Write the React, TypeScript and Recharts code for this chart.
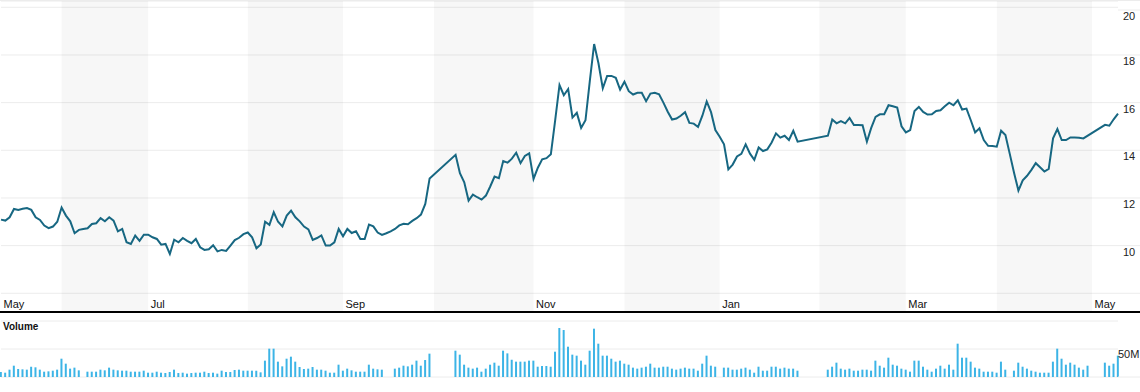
import React from "react";
import {
  ComposedChart,
  Line,
  Bar,
  XAxis,
  YAxis,
  CartesianGrid,
  ReferenceArea,
} from "recharts";

// x = weekday index since 2013-05-14 (holidays / missing days are null)
const PRICE: (number | null)[] = [
  11.09, 11.05, 11.19, 11.54, 11.5, 11.55, 11.58, 11.5, 11.19, 11.08,
  10.84, 10.73, 10.8, 11.0, 11.6, 11.26, 11.02, 10.52, 10.66, 10.7,
  10.73, 10.91, 10.94, 11.15, 11.02, 11.19, 11.05, 10.6, 10.7, 10.14,
  10.07, 10.42, 10.2, 10.46, 10.46, 10.35, 10.28, 10.04, 10.07, 9.65,
  10.25, 10.14, 10.32, 10.2, 10.1, 10.28, 9.93, 9.82, 9.85, 10.02,
  9.76, 9.82, 9.78, 10.0, 10.23, 10.33, 10.48, 10.55, 10.35, 9.89,
  10.05, 11.0, 10.87, 11.4, 11.0, 10.81, 11.26, 11.47, 11.19, 11.02,
  10.8, 10.68, 10.24, 10.32, 10.43, 10.0, 10.0, 10.14, 10.7, 10.39,
  10.7, 10.53, 10.6, 10.28, 10.28, 10.88, 10.81, 10.55, 10.45, 10.52,
  10.6, 10.7, 10.85, 10.92, 10.9, 11.04, 11.15, 11.3, 11.75, 12.82,
  null, null, null, null, null, 13.81, 13.04, 12.66, 11.89, 12.14,
  12.03, 11.93, 12.1, 12.48, 12.9, 12.83, 13.55, 13.48, 13.65, 13.9,
  13.46, 13.76, 13.87, 12.8, 13.27, 13.62, 13.67, 13.83, 15.26, 16.74,
  16.31, 16.57, 15.37, 15.57, 14.94, 15.26, 16.9, 18.46, 17.65, 16.6,
  17.12, 17.12, 17.04, 16.55, 16.88, 16.48, 16.34, 16.41, 16.41, 16.06,
  16.38, 16.41, 16.35, 16.0, 15.62, 15.29, 15.33, 15.45, 15.6, 15.15,
  15.12, 14.98, 15.45, 16.05, 15.6, 14.85, 14.57, 14.25, 13.2, 13.4,
  13.74, 13.85, 14.25, 13.86, 13.6, 14.12, 13.97, 14.04, 14.33, 14.71,
  14.53, 14.61, 14.43, 14.82, 14.36, null, null, null, null, null,
  null, 14.61, 15.29, 15.13, 15.22, 15.13, 15.36, 15.06, 15.06, 15.05,
  14.36, 14.94, 15.4, 15.51, 15.51, 15.89, 15.85, 15.79, 15.01, 14.75,
  14.85, 15.65, 15.82, 15.61, 15.5, 15.51, 15.65, 15.68, 15.85, 16.0,
  15.89, 16.1, 15.71, 15.75, 15.26, 14.75, 14.92, 14.43, 14.19, 14.18,
  14.15, 14.82, 14.64, 13.85, 13.05, 12.31, 12.74, 12.93, 13.18, 13.46,
  13.29, 13.11, 13.22, 14.5, 14.89, 14.43, 14.43, 14.54, 14.54, 14.53,
  14.5, null, null, null, null, 15.07, 15.03, 15.3, 15.54,
];

// millions of shares
const VOLUME: (number | null)[] = [
  8.9, 7.7, 13.1, 20.2, 14.3, 13.7, 13.1, 18.4, 17.3, 13.1,
  9.5, 10.1, 11.3, 13.1, 32.7, 23.8, 14.9, 16.7, 11.9, null,
  9.5, 9.5, 9.5, 13.1, 11.9, 16.7, 13.1, 11.9, 11.3, 11.3,
  9.5, 9.5, 9.5, 11.3, 7.7, 7.7, 9.5, 7.7, 7.1, 8.9,
  13.1, 7.1, 7.7, 6.0, 7.1, 7.7, 7.7, 9.5, 7.1, 7.7,
  6.0, 11.3, 8.9, 8.9, 12.5, 13.1, 11.3, 11.3, 11.3, 11.3,
  8.3, 29.2, 50.6, 50.6, 27.4, 19.0, 32.7, 36.3, 27.4, 17.9,
  14.3, 14.9, 17.9, 13.1, 13.1, 11.3, 7.7, 7.7, 22.0, 11.3,
  14.9, 11.9, 9.5, 9.5, 9.5, 22.0, 14.9, 13.7, 13.1, null,
  null, 14.9, 16.7, 20.2, 19.0, 22.0, 29.2, 20.2, 30.3, 41.7,
  null, null, null, null, null, 47.0, 39.9, 22.0, 16.7, 14.9,
  16.7, 9.5, 14.9, 22.0, 25.6, 20.2, 47.0, 42.2, 30.9, 27.4,
  27.4, 27.4, 29.2, 29.2, 18.4, 19.6, 19.6, 18.4, 45.2, 87.5,
  83.9, 54.1, 39.9, 38.1, 29.2, 22.0, 47.0, 86.3, 59.5, 38.1,
  38.1, 32.7, 27.4, 29.2, 23.8, 22.0, 16.7, 14.9, 16.7, 18.4,
  23.8, 16.7, 16.7, 18.4, 18.4, 14.9, 13.1, 14.9, 16.7, 14.9,
  14.9, 11.3, 23.8, 38.1, 20.2, 18.4, null, 16.7, 16.7, 13.1,
  13.1, 14.9, 16.7, 13.1, 7.7, 18.4, 11.3, 11.3, 18.4, 18.4,
  14.9, 16.7, 14.9, 14.9, 11.3, null, null, null, null, null,
  null, 13.1, 18.4, 25.6, 14.9, 13.1, 14.9, 11.3, 11.3, 13.1,
  13.1, 11.3, 29.2, 20.2, 16.7, 34.5, 22.0, 20.2, 14.9, 13.1,
  9.5, 29.2, 29.2, 18.4, 13.1, 9.5, 14.9, 20.2, 14.9, 22.0,
  13.1, 59.5, 34.5, 34.5, 27.4, 16.7, 14.9, 9.5, 9.5, 9.5,
  7.7, 27.4, 13.1, null, 11.3, 25.6, 18.4, 14.9, 11.3, 9.5,
  7.7, 7.7, 7.7, 27.4, 50.6, 32.7, 22.0, 25.6, 22.0, 16.7,
  13.1, 20.2, null, null, null, 25.6, 20.2, 23.8, 38.1,
];

// first weekday of each labelled month, and the shaded (alternate) months
const MONTH_TICKS = [0, 34, 79, 123, 166, 209, 252];
const MONTH_LABELS = ["May", "Jul", "Sep", "Nov", "Jan", "Mar", "May"];
const SHADED_MONTHS: [number, number][] = [
  [14, 34],
  [57, 79],
  [100, 123],
  [144, 166],
  [189, 209],
  [230, 252],
];
const PRICE_TICKS = [8, 10, 12, 14, 16, 18, 20];
const VOLUME_TICKS = [0, 50];

const LAST = PRICE.length - 1;
const FONT = "'Liberation Sans', Arial, sans-serif";
const PLOT_RIGHT = 1118;

const data = PRICE.map((p, i) => ({ i, price: p, volume: VOLUME[i] }));

function MonthTick(props: any) {
  const { x, payload } = props;
  const idx = MONTH_TICKS.indexOf(payload.value);
  return (
    <text x={x + 2.5} y={307} fontSize={11} fontFamily={FONT} fill="#111">
      {MONTH_LABELS[idx]}
    </text>
  );
}

function PriceTick(props: any) {
  const { y, payload } = props;
  return (
    <g>
      <line x1={PLOT_RIGHT} x2={1140} y1={y} y2={y} stroke="#ececec" />
      {payload.value >= 10 && (
        <text x={1123} y={y + 10} fontSize={11} fontFamily={FONT} fill="#222">
          {payload.value}
        </text>
      )}
    </g>
  );
}

function VolumeTick(props: any) {
  const { y, payload } = props;
  if (payload.value === 0) {
    return <line x1={PLOT_RIGHT} x2={1140} y1={y} y2={y} stroke="#ececec" />;
  }
  return (
    <text x={1118} y={y + 9} fontSize={11} fontFamily={FONT} fill="#222">
      {payload.value}M
    </text>
  );
}

export default function App() {
  return (
    <div
      style={{
        position: "absolute",
        left: 0,
        top: 0,
        width: 1140,
        height: 392,
        background: "#fff",
        fontFamily: FONT,
      }}
    >
      <div style={{ position: "absolute", left: 0, top: 0, width: 1140, height: 1, background: "#ececec" }} />
      <div style={{ position: "absolute", left: 0, top: 1 }}>
        <ComposedChart width={1140} height={319} data={data} margin={{ top: 0, right: 0, bottom: 0, left: 1 }}>
          {SHADED_MONTHS.map(([a, b], k) => (
            <ReferenceArea key={k} x1={a} x2={b} fill="#000" fillOpacity={0.032} stroke="none" />
          ))}
          <CartesianGrid vertical={false} stroke="#ececec" />
          <XAxis
            dataKey="i"
            type="number"
            domain={[0, LAST]}
            ticks={MONTH_TICKS}
            interval={0}
            height={8}
            axisLine={false}
            tickLine={false}
            tick={<MonthTick />}
          />
          <YAxis
            orientation="right"
            width={22}
            domain={[7.215, 20.264]}
            ticks={PRICE_TICKS}
            axisLine={false}
            tickLine={false}
            allowDataOverflow
            tick={<PriceTick />}
          />
          <Line
            type="linear"
            dataKey="price"
            stroke="#176782"
            strokeWidth={2}
            dot={false}
            connectNulls
            isAnimationActive={false}
          />
        </ComposedChart>
      </div>
      <div style={{ position: "absolute", left: 0, top: 311, width: 1140, height: 2, background: "#000" }} />
      <div
        style={{
          position: "absolute",
          left: 3,
          top: 321,
          fontSize: 10,
          fontWeight: "bold",
          color: "#111",
          lineHeight: "12px",
        }}
      >
        Volume
      </div>
      <div style={{ position: "absolute", left: 0, top: 313 }}>
        <ComposedChart width={1140} height={79} data={data} margin={{ top: 8, right: 0, bottom: 15, left: 1 }}>
          <CartesianGrid vertical={false} stroke="#ececec" />
          <XAxis dataKey="i" type="number" domain={[0, LAST]} hide />
          <YAxis
            orientation="right"
            width={22}
            domain={[0, 100]}
            ticks={VOLUME_TICKS}
            axisLine={false}
            tickLine={false}
            tick={<VolumeTick />}
          />
          <Bar dataKey="volume" fill="#3cb4e6" barSize={2} isAnimationActive={false} />
        </ComposedChart>
      </div>
    </div>
  );
}
